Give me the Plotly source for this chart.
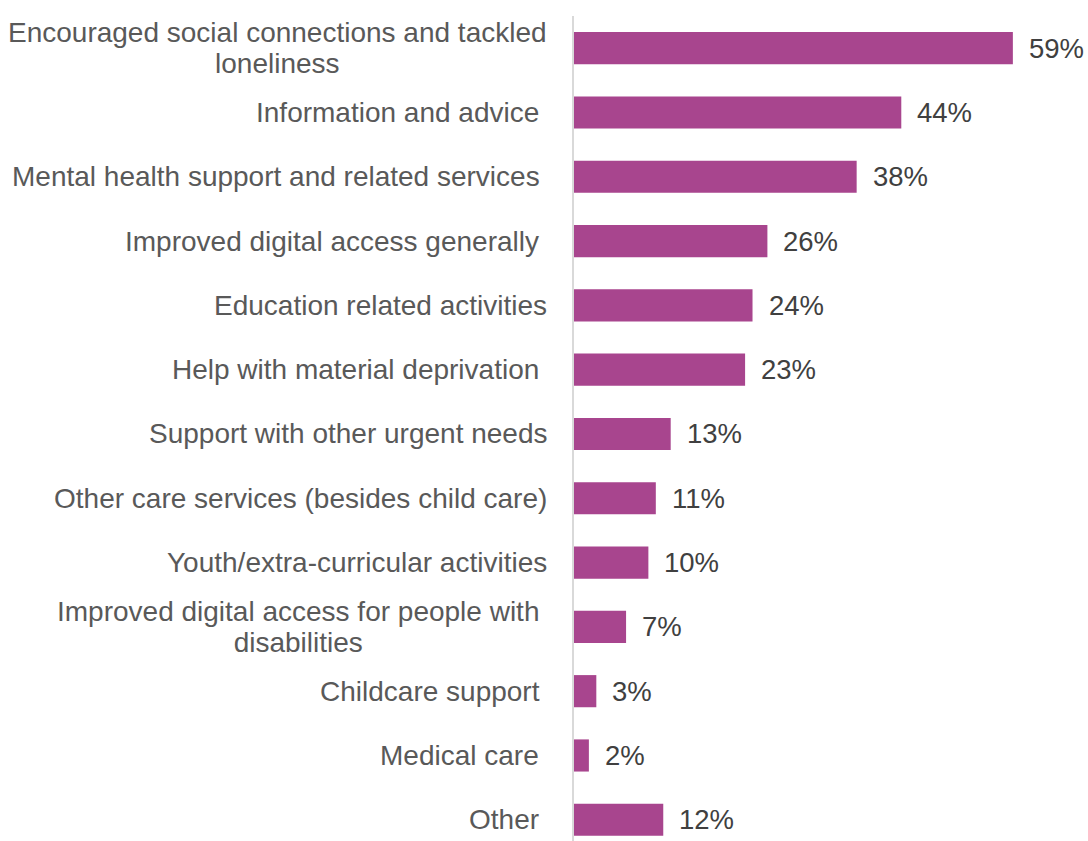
import plotly.graph_objects as go

# Survey categories (top to bottom) and share of respondents (%)
categories = [
    "Encouraged social connections and tackled<br>loneliness",
    "Information and advice\u00a0",
    "Mental health support and related services\u00a0",
    "Improved digital access generally\u00a0",
    "Education related activities",
    "Help with material deprivation\u00a0",
    "Support with other urgent needs",
    "Other care services (besides child care)",
    "Youth/extra-curricular activities",
    "Improved digital access for people with\u00a0<br>disabilities\u00a0",
    "Childcare support\u00a0",
    "Medical care\u00a0",
    "Other\u00a0",
]
values = [59, 44, 38, 26, 24, 23, 13, 11, 10, 7, 3, 2, 12]
value_labels = [f"{v}%" for v in values]

BAR_COLOR = "#A8458E"
LABEL_COLOR = "#595959"
VALUE_COLOR = "#404040"
FONT = "Liberation Sans, Arial, sans-serif"
LABEL_SIZE = 28
VALUE_SIZE = 27.5


def sized(text, size):
    # wrap each line in a span so glyph size is independent of line spacing
    return "<br>".join(
        f'<span style="font-size:{size}px">{line}</span>' for line in text.split("<br>")
    )


positions = list(range(len(categories)))

fig = go.Figure(
    go.Bar(
        x=values,
        y=positions,
        orientation="h",
        marker=dict(color=BAR_COLOR, line=dict(width=0)),
        width=0.5,
        hoverinfo="skip",
    )
)

annotations = []
for pos, label, v, vl in zip(positions, categories, values, value_labels):
    # category label, right-aligned against the axis
    annotations.append(dict(
        x=0, xref="paper", y=pos, yref="y",
        text=sized(label, LABEL_SIZE), showarrow=False,
        xanchor="right", yanchor="middle", align="center",
        xshift=-25,
        font=dict(family=FONT, size=24, color=LABEL_COLOR),
    ))
    # value label at the end of the bar
    annotations.append(dict(
        x=v, xref="x", y=pos, yref="y",
        text=vl, showarrow=False,
        xanchor="left", yanchor="middle",
        xshift=14,
        font=dict(family=FONT, size=VALUE_SIZE, color=VALUE_COLOR),
    ))

fig.update_layout(
    width=1088,
    height=841,
    margin=dict(l=574, r=0, t=16, b=0, pad=0),
    paper_bgcolor="white",
    plot_bgcolor="white",
    showlegend=False,
    annotations=annotations,
    xaxis=dict(
        range=[0, 69.1],
        showgrid=False, zeroline=False, showticklabels=False,
        showline=False, ticks="",
    ),
    yaxis=dict(
        range=[12.33, -0.5],
        showgrid=False, zeroline=False, showticklabels=False,
        showline=True, linecolor="#d9d9d9", linewidth=2,
        ticks="",
    ),
)

fig.write_html("out.html")
